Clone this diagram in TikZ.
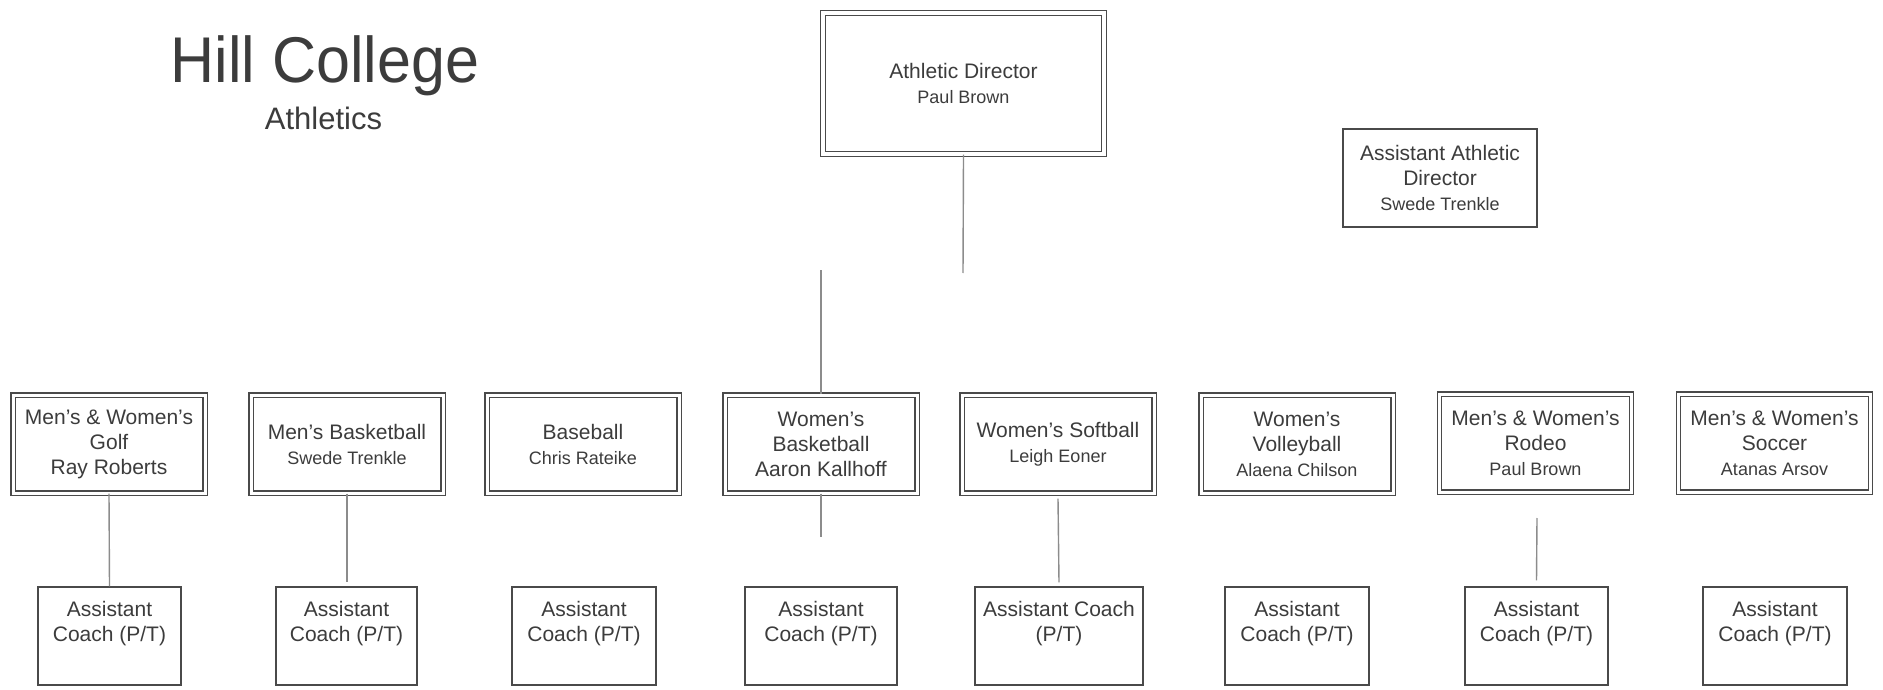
\documentclass[tikz,border=0pt]{standalone}
\usepackage{fontspec}
\setmainfont{Liberation Sans}
\usetikzlibrary{calc}
\definecolor{boxline}{HTML}{4A4A4A}
\definecolor{connline}{HTML}{8C8C8C}
\definecolor{txt}{HTML}{3C3C3C}
\newcommand{\pname}[1]{{\fontsize{18}{22}\selectfont #1}}
\tikzset{
  basefont/.style={font=\fontsize{21}{25}\selectfont, text=txt},
  dbox/.style={basefont, draw=boxline, double=white, double distance=3pt, line width=1.2pt,
    minimum width=192pt, minimum height=98pt, inner sep=0pt, align=center},
  sbox/.style={draw=boxline, line width=1.2pt, inner sep=0pt},
  coachbox/.style={sbox, minimum height=98pt},
  coachtxt/.style={basefont, anchor=north, inner sep=0pt, align=center},
  conn/.style={draw=connline, line width=1.4pt},
}
\begin{document}
\begin{tikzpicture}[x=1pt, y=-1pt]
\useasboundingbox[fill=white] (0,0) rectangle (1883,690);

% title
\node[font=\fontsize{61}{66}\selectfont, text=txt, anchor=base, inner sep=0pt] (title) at (325,83) {\scalebox{1}[1.06]{Hill College}};
\node[font=\fontsize{31}{34}\selectfont, text=txt, anchor=base, inner sep=0pt] (subtitle) at (323.5,130) {Athletics};

% top level
\node[dbox, minimum width=281pt, minimum height=141pt, double distance=3.5pt] (ad) at (963.5,83.5) {Athletic Director\\\pname{Paul Brown}};
\node[sbox, basefont, align=center, minimum width=194pt, minimum height=98pt] (aad) at (1440,178) {Assistant Athletic\\Director\\\pname{Swede Trenkle}};

% sport heads
\node[dbox] (golf) at (109,444) {Men's \& Women's\\Golf\\Ray Roberts};
\node[dbox] (mbb)  at (347,444) {Men's Basketball\\\pname{Swede Trenkle}};
\node[dbox] (base) at (583,444) {Baseball\\\pname{Chris Rateike}};
\node[dbox] (wbb)  at (821,444) {Women's\\Basketball\\Aaron Kallhoff};
\node[dbox] (soft) at (1058,444) {Women's Softball\\\pname{Leigh Eoner}};
\node[dbox] (volley) at (1297,444) {Women's\\Volleyball\\\pname{Alaena Chilson}};
\node[dbox] (rodeo) at (1535.5,443) {Men's \& Women's\\Rodeo\\\pname{Paul Brown}};
\node[dbox] (soccer) at (1774.5,443) {Men's \& Women's\\Soccer\\\pname{Atanas Arsov}};

% assistant coaches
\node[coachbox, minimum width=143pt] (c1) at (109.5,636) {};
\node[coachbox, minimum width=141pt] (c2) at (346.5,636) {};
\node[coachbox, minimum width=144pt] (c3) at (584,636) {};
\node[coachbox, minimum width=152pt] (c4) at (821,636) {};
\node[coachbox, minimum width=168pt] (c5) at (1059,636) {};
\node[coachbox, minimum width=144pt] (c6) at (1297,636) {};
\node[coachbox, minimum width=143pt] (c7) at (1536.5,636) {};
\node[coachbox, minimum width=144pt] (c8) at (1775,636) {};

\node[coachtxt] (t1) at ($(c1.north)+(0,15)$) {Assistant\\Coach (P/T)};
\node[coachtxt] (t2) at ($(c2.north)+(0,15)$) {Assistant\\Coach (P/T)};
\node[coachtxt] (t3) at ($(c3.north)+(0,15)$) {Assistant\\Coach (P/T)};
\node[coachtxt] (t4) at ($(c4.north)+(0,15)$) {Assistant\\Coach (P/T)};
\node[coachtxt] (t5) at ($(c5.north)+(0,15)$) {Assistant Coach\\(P/T)};
\node[coachtxt] (t6) at ($(c6.north)+(0,15)$) {Assistant\\Coach (P/T)};
\node[coachtxt] (t7) at ($(c7.north)+(0,15)$) {Assistant\\Coach (P/T)};
\node[coachtxt] (t8) at ($(c8.north)+(0,15)$) {Assistant\\Coach (P/T)};

% connectors
\coordinate (adend) at (963,273);
\coordinate (wbtop) at (821,270);
\coordinate (wbend) at (821,537);
\coordinate (mbend) at (347,582);
\coordinate (rodeostart) at (1537,518);
\draw[conn] (ad.south) -- (adend);
\draw[conn] (wbtop) -- (wbb.north);
\draw[conn] (wbb.south) -- (wbend);
\draw[conn] (golf.south) -- (c1.north);
\draw[conn] (mbb.south) -- (mbend);
\draw[conn] ($(soft.south)+(0,5)$) -- ($(c5.north)+(0,-4)$);
\draw[conn] (rodeostart) -- ($(c7.north)+(0,-6)$);
\end{tikzpicture}
\end{document}
